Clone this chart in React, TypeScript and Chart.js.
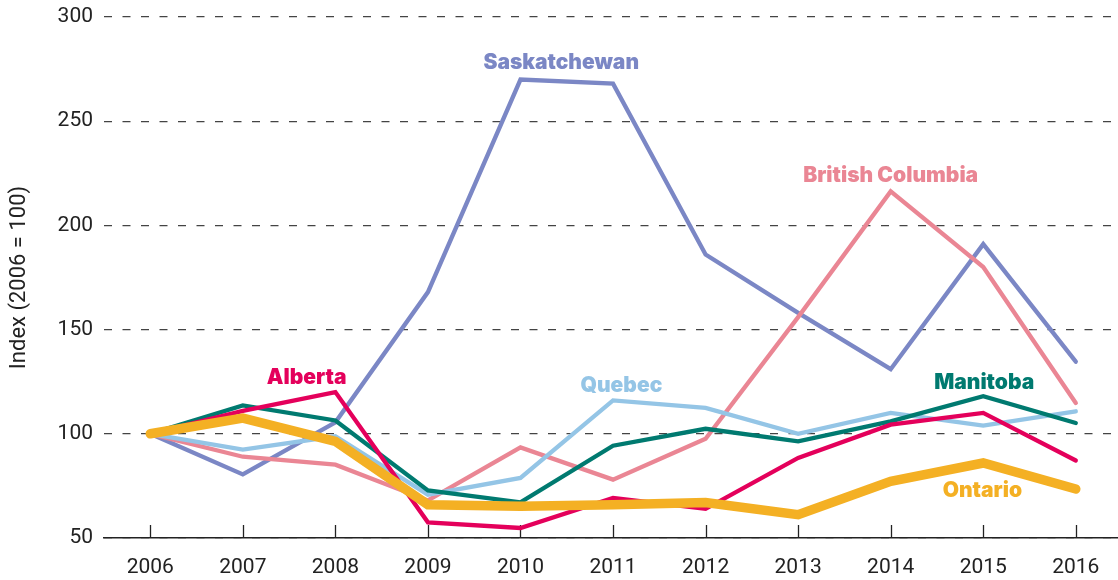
import React, { useEffect, useRef } from "react";
import { Chart, registerables } from "chart.js";

Chart.register(...registerables);

const years = [2006, 2007, 2008, 2009, 2010, 2011, 2012, 2013, 2014, 2015, 2016];
const yTicks = [50, 100, 150, 200, 250, 300];

const ontario = [100, 107.5, 96.4, 66, 65.2, 66, 67, 61.2, 77.2, 86, 73.5];
const alberta = [100, 111, 120, 57.5, 54.8, 69.2, 64, 88.4, 104.4, 110, 87.2];
const manitoba = [100, 113.6, 106.4, 72.8, 67.1, 94.3, 102.4, 96.4, 106, 118, 105.2];
const quebec = [100, 92.4, 98.8, 70.8, 78.8, 116, 112.4, 100, 110, 103.9, 110.8];
const britishColumbia = [100, 89, 85.2, 68, 93.5, 78, 97.6, 156, 216.3, 180, 114.8];
const saskatchewan = [100, 80.5, 105.5, 168, 270, 268, 186, 158, 131, 191, 134.6];

const seriesNames = ["Ontario", "Alberta", "Manitoba", "Quebec", "British Columbia", "Saskatchewan"];
const seriesValues = [ontario, alberta, manitoba, quebec, britishColumbia, saskatchewan];
const seriesColors = ["#f4b024", "#e4005b", "#007a70", "#94c5e6", "#ea8694", "#7b87c5"];
const seriesWidths = [9.5, 4.3, 4.3, 4.3, 4.3, 4.3];

// label anchor positions in data space (year, index value)
const labelX = [2014.99, 2007.69, 2015.01, 2011.09, 2014.0, 2010.44];
const labelY = [72.7, 126.8, 124.5, 123.1, 223.9, 278.1];

const yTitle = "Index (2006 = 100)";

const seriesLabelsPlugin = {
  id: "seriesLabels",
  afterDatasetsDraw(chart: any) {
    const { ctx, scales } = chart;
    ctx.save();
    ctx.font = "900 21px Inter";
    ctx.textAlign = "center";
    ctx.textBaseline = "middle";
    seriesNames.forEach((name, i) => {
      ctx.fillStyle = seriesColors[i];
      ctx.fillText(name, scales.x.getPixelForValue(labelX[i]), scales.y.getPixelForValue(labelY[i]));
    });
    ctx.restore();
  },
};

const innerTicksPlugin = {
  id: "innerTicks",
  beforeDatasetsDraw(chart: any) {
    const { ctx, scales, chartArea } = chart;
    ctx.save();
    ctx.strokeStyle = "#222";
    ctx.lineWidth = 1.3;
    years.forEach((yr) => {
      const x = Math.round(scales.x.getPixelForValue(yr)) + 0.5;
      ctx.beginPath();
      ctx.moveTo(x, chartArea.bottom);
      ctx.lineTo(x, chartArea.bottom - 13);
      ctx.stroke();
    });
    ctx.restore();
  },
};

export default function App() {
  const ref = useRef<HTMLCanvasElement>(null);
  useEffect(() => {
    document.body.style.margin = "0";
    const chart = new Chart(ref.current as HTMLCanvasElement, {
      type: "line",
      data: {
        datasets: seriesNames.map((name, i) => ({
          label: name,
          data: years.map((yr, j) => ({ x: yr, y: seriesValues[i][j] })),
          borderColor: seriesColors[i],
          backgroundColor: seriesColors[i],
          borderWidth: seriesWidths[i],
          pointRadius: 0,
          tension: 0,
          borderJoinStyle: "miter" as const,
          borderCapStyle: "round" as const,
          fill: false,
        })),
      },
      options: {
        animation: false,
        responsive: false,
        maintainAspectRatio: false,
        layout: { padding: { top: 17, right: 0, left: 0, bottom: 0 } },
        plugins: { legend: { display: false }, tooltip: { enabled: false } },
        scales: {
          x: {
            type: "linear",
            min: 2005.5,
            max: 2016.456,
            afterBuildTicks: (scale: any) => {
              scale.ticks = years.map((v) => ({ value: v }));
            },
            afterFit: (scale: any) => {
              scale.height = 42;
            },
            grid: { display: false, drawTicks: false },
            border: { display: true, color: "#222", width: 1.5 },
            ticks: {
              color: "#222",
              font: { family: "Roboto", size: 21 },
              padding: 17,
              maxRotation: 0,
              autoSkip: false,
              callback: (v: any) => String(v),
            },
          },
          y: {
            min: 50,
            max: 300,
            afterBuildTicks: (scale: any) => {
              scale.ticks = yTicks.map((v) => ({ value: v }));
            },
            afterFit: (scale: any) => {
              scale.width = 104;
              scale.paddingTop = 0;
              scale.paddingBottom = 0;
            },
            grid: {
              color: "#444",
              lineWidth: 1.2,
              drawTicks: false,
            },
            border: { display: false, dash: [8, 10.5] },
            ticks: {
              color: "#222",
              font: { family: "Roboto", size: 21 },
              padding: 11,
              callback: (v: any) => String(v),
            },
            title: {
              display: true,
              text: yTitle,
              color: "#222",
              font: { family: "Roboto", size: 22 },
              padding: { top: 6, bottom: 0 },
            },
          },
        },
      },
      plugins: [innerTicksPlugin, seriesLabelsPlugin],
    });
    return () => chart.destroy();
  }, []);
  return <canvas ref={ref} width={1118} height={580} style={{ display: "block" }} />;
}
